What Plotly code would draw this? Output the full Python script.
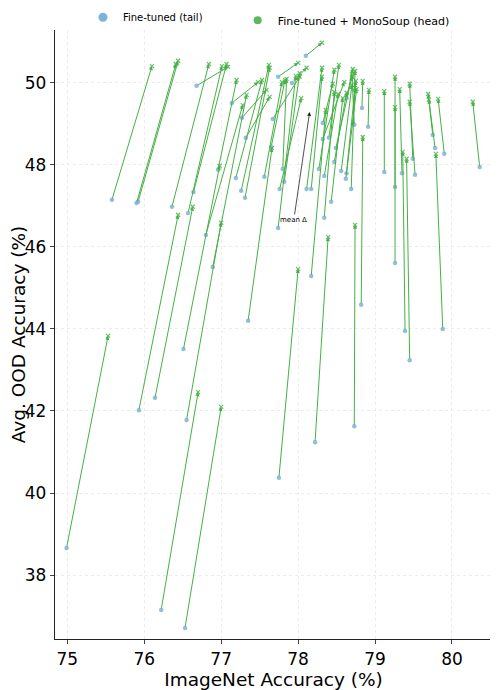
import numpy as np
import plotly.graph_objects as go

# fine-tuned models (tail) and the same models after MonoSoup (head)
tail_x = [74.99, 75.58, 75.90, 75.92, 76.36, 76.68, 76.57, 76.64, 77.14, 77.27,
          77.32, 77.67, 77.74, 77.92, 78.10, 76.96, 76.80, 76.89, 77.35, 76.55,
          75.93, 76.14, 76.51, 76.22, 76.53, 77.19, 77.26, 77.31, 77.56, 77.65,
          77.76, 77.82, 77.80, 77.74, 78.11, 78.17, 78.27, 78.40, 78.32, 78.17,
          78.34, 78.34, 78.43, 78.47, 78.49, 78.56, 78.62, 78.63, 78.69, 78.73,
          78.63, 78.71, 78.32, 78.83, 78.91, 78.82, 78.73, 78.22, 77.75, 79.12,
          79.26, 79.26, 79.35, 79.39, 79.45, 79.49, 79.52, 79.75, 79.78, 79.90,
          79.88, 80.36]
tail_y = [38.66, 47.15, 47.07, 47.10, 46.98, 49.93, 46.83, 47.34, 49.51, 49.15,
          48.66, 49.12, 50.15, 50.00, 50.66, 47.88, 46.29, 45.51, 44.20, 41.78,
          42.02, 42.32, 43.51, 37.15, 36.71, 47.68, 47.37, 47.20, 47.71, 48.44,
          47.41, 47.59, 47.90, 46.46, 47.41, 47.41, 47.90, 48.66, 48.63, 45.29,
          47.73, 46.71, 47.10, 48.07, 48.41, 47.85, 47.66, 47.80, 47.41, 48.98,
          49.63, 49.00, 49.02, 49.39, 48.93, 44.59, 41.63, 41.24, 40.37, 47.83,
          47.46, 45.61, 47.80, 43.95, 43.24, 48.15, 47.76, 48.73, 48.41, 48.27,
          44.00, 47.95]
head_x = [75.53, 76.10, 76.41, 76.44, 76.84, 77.09, 77.01, 77.07, 77.48, 77.59,
          77.63, 78.02, 78.00, 78.11, 78.31, 77.20, 77.28, 77.33, 77.66, 77.00,
          76.44, 76.63, 76.98, 76.70, 77.00, 77.53, 77.62, 77.63, 77.79, 77.83,
          78.04, 78.02, 77.85, 77.97, 78.31, 78.31, 78.47, 78.53, 78.60, 78.36,
          78.52, 78.47, 78.58, 78.63, 78.70, 78.70, 78.74, 78.76, 78.74, 78.70,
          78.71, 78.75, 78.45, 78.84, 78.92, 78.84, 78.74, 78.39, 78.00, 79.12,
          79.26, 79.26, 79.32, 79.36, 79.41, 79.45, 79.45, 79.69, 79.70, 79.82,
          79.79, 80.27]
head_y = [43.83, 50.41, 50.46, 50.54, 50.46, 50.39, 50.41, 50.46, 50.02, 49.83,
          49.66, 50.15, 50.49, 50.37, 50.98, 50.07, 49.46, 49.71, 48.41, 46.59,
          46.78, 46.98, 47.98, 42.46, 42.10, 50.07, 50.44, 50.37, 50.02, 50.07,
          49.63, 50.24, 50.10, 50.17, 50.37, 50.15, 50.32, 50.44, 50.02, 49.34,
          49.73, 49.78, 49.63, 49.76, 50.15, 49.95, 49.88, 49.85, 50.29, 50.20,
          50.34, 50.05, 49.98, 50.05, 49.83, 48.68, 46.54, 46.24, 45.46, 49.80,
          50.15, 49.41, 49.85, 48.32, 48.15, 49.98, 49.54, 49.73, 49.59, 49.61,
          48.27, 49.54]

x_ticks = [75, 76, 77, 78, 79, 80]
y_ticks = [38, 40, 42, 44, 46, 48, 50]

blue = '#7fb2d9'
green = '#45b045'
font = 'DejaVu Sans'

fig = go.Figure()

# arrows tail -> head
for tx, ty, hx, hy in zip(tail_x, tail_y, head_x, head_y):
    fig.add_annotation(x=hx, y=hy, ax=tx, ay=ty, xref='x', yref='y',
                       axref='x', ayref='y', text='', showarrow=True,
                       arrowhead=2, arrowsize=0.8, arrowwidth=1.0,
                       arrowcolor=green, standoff=0, startstandoff=0)

fig.add_trace(go.Scatter(x=tail_x, y=tail_y, mode='markers',
    marker=dict(color=blue, size=4.5, opacity=0.85),
    showlegend=False, hoverinfo='skip'))
fig.add_trace(go.Scatter(x=head_x, y=head_y, mode='markers',
    marker=dict(color=green, size=4, opacity=0.8, symbol='x-thin',
                line=dict(color=green, width=1.2)),
    showlegend=False, hoverinfo='skip'))

# legend-only entries, each in its own legend box
fig.add_trace(go.Scatter(x=[None], y=[None], mode='markers', legend='legend',
    name='Fine-tuned (tail)', marker=dict(color=blue, size=9)))
fig.add_trace(go.Scatter(x=[None], y=[None], mode='markers', legend='legend2',
    name='Fine-tuned + MonoSoup (head)', marker=dict(color='#5cb85c', size=8)))

# mean delta arrow, from mean tail to mean head
mtx, mty = np.mean(tail_x), np.mean(tail_y)
mhx, mhy = np.mean(head_x), np.mean(head_y)
fig.add_annotation(x=mhx, y=mhy, ax=mtx, ay=mty, xref='x', yref='y',
                   axref='x', ayref='y', text='mean Δ', showarrow=True,
                   arrowhead=2, arrowsize=1, arrowwidth=0.8, arrowcolor='#222',
                   font=dict(family=font, size=7, color='black'))

# page body has an 8px margin, so the figure is 8px smaller and margins shifted
fig.update_layout(
    width=490, height=682,
    margin=dict(l=47, r=6, t=22, b=51, autoexpand=False),
    plot_bgcolor='white', paper_bgcolor='white',
    font=dict(family=font, color='black'),
    legend=dict(x=0.064, xanchor='left', y=1.021, yanchor='middle',
                font=dict(size=10), bgcolor='rgba(0,0,0,0)'),
    legend2=dict(x=0.418, xanchor='left', y=1.016, yanchor='middle',
                 font=dict(size=11), bgcolor='rgba(0,0,0,0)'),
)
fig.update_xaxes(range=[74.84, 80.52], tickvals=x_ticks, automargin=False,
                 title=dict(text='ImageNet Accuracy (%)', font=dict(size=18.5), standoff=4),
                 tickfont=dict(size=17), showgrid=True, gridcolor='#ececec',
                 griddash='dot', showline=True, linecolor='#222', linewidth=1.3,
                 ticks='outside', ticklen=4, zeroline=False)
fig.update_yaxes(range=[36.44, 51.29], tickvals=y_ticks, automargin=False,
                 title=dict(text='Avg. OOD Accuracy (%)', font=dict(size=18.5), standoff=6),
                 tickfont=dict(size=17), showgrid=True, gridcolor='#ececec',
                 griddash='dot', showline=True, linecolor='#222', linewidth=1.3,
                 ticks='outside', ticklen=4, zeroline=False)

fig.write_html("out.html")
